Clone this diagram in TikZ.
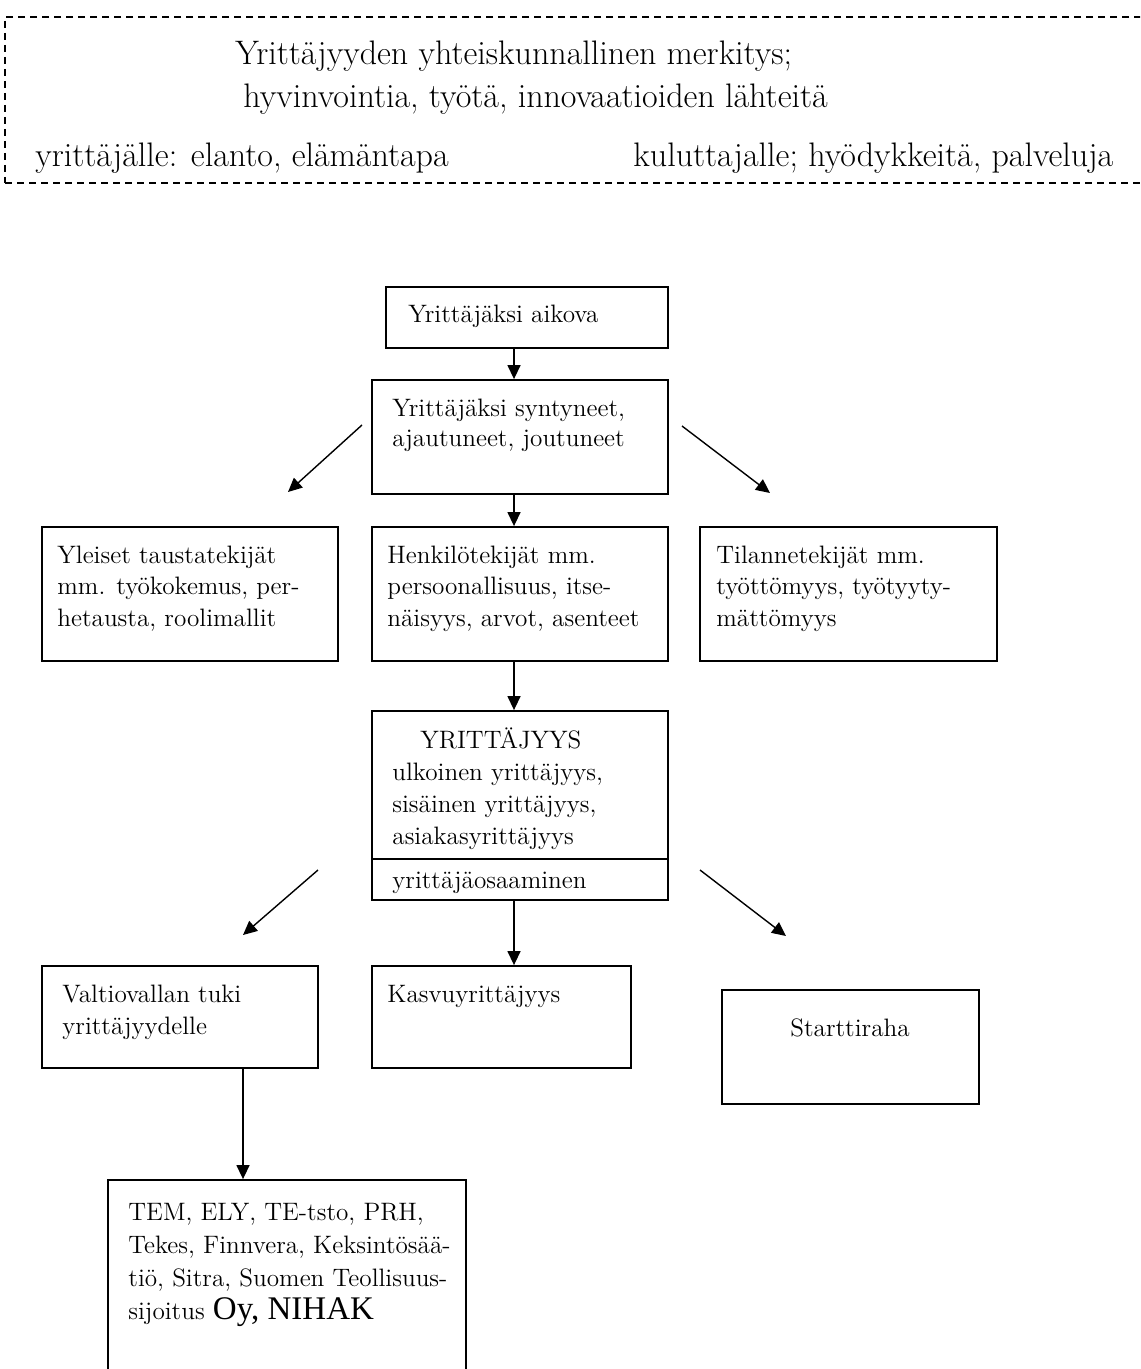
\documentclass[tikz,border=0pt]{standalone}
\usepackage{fontspec}
\newfontfamily\timesf{Liberation Serif}
\usetikzlibrary{arrows.meta,fit}
\begin{document}
\begin{tikzpicture}[x=0.5pt,y=-0.5pt,
 boxst/.style={draw, line width=0.9pt, inner sep=0pt},
 frame/.style={draw, line width=0.6pt, dash pattern=on 3.5pt off 2.5pt, inner sep=0pt},
 txt/.style={inner sep=0pt, anchor=base west, font=\fontsize{12.6}{15.75}\selectfont, align=left},
 toptxt/.style={inner sep=0pt, anchor=base west, font=\fontsize{17}{19}\selectfont},
 arr/.style={line width=0.7pt, -{Triangle[length=7pt,width=6.5pt]}}]
\clip (0,0) rectangle (1140,1369);
% top dashed frame
\node[frame, fit={(5,17) (1180,183)}] (fr) {};
\node[toptxt] (t1) at (235,65) {Yrittäjyyden yhteiskunnallinen merkitys;};
\node[toptxt] (t2) at (243,108) {hyvinvointia, työtä, innovaatioiden lähteitä};
\node[toptxt] (t3) at (35,167) {yrittäjälle: elanto, elämäntapa};
\node[toptxt] (t4) at (633,167) {kuluttajalle; hyödykkeitä, palveluja};
% boxes
\node[boxst, fit={(386,287) (668,348)}] (A) {};
\node[boxst, fit={(372,380) (668,494)}] (B) {};
\node[boxst, fit={(42,527) (338,661)}] (C1) {};
\node[boxst, fit={(372,527) (668,661)}] (C2) {};
\node[boxst, fit={(700,527) (997,661)}] (C3) {};
\node[boxst, fit={(372,711) (668,900)}] (D) {};
\coordinate (dv) at (0,859);
\draw[line width=0.9pt] (D.west |- dv) -- (D.east |- dv);
\node[boxst, fit={(42,966) (318,1068)}] (F1) {};
\node[boxst, fit={(372,966) (631,1068)}] (F2) {};
\node[boxst, fit={(722,990) (979,1104)}] (F3) {};
\node[boxst, fit={(108,1180) (466,1420)}] (G) {};
% texts (anchor = baseline of last line)
\node[txt] (tA) at (408,322) {Yrittäjäksi aikova};
\node[txt, font=\fontsize{12.6}{15}\selectfont] (tB) at (392,446) {Yrittäjäksi syntyneet,\\ajautuneet, joutuneet};
\node[txt] (tC1) at (57,626) {Yleiset taustatekijät\\mm. työkokemus, per-\\hetausta, roolimallit};
\node[txt] (tC2) at (387,626) {Henkilötekijät mm.\\persoonallisuus, itse-\\näisyys, arvot, asenteet};
\node[txt] (tC3) at (716,626) {Tilannetekijät mm.\\työttömyys, työtyyty-\\mättömyys};
\node[txt, font=\fontsize{12.6}{16}\selectfont] (tD) at (392,844) {\hspace*{14pt}YRITTÄJYYS\\ulkoinen yrittäjyys,\\sisäinen yrittäjyys,\\asiakasyrittäjyys};
\node[txt] (tD2) at (392,888) {yrittäjäosaaminen};
\node[txt, font=\fontsize{12.6}{16}\selectfont] (tF1) at (62,1034) {Valtiovallan tuki\\yrittäjyydelle};
\node[txt] (tF2) at (387,1002) {Kasvuyrittäjyys};
\node[txt, anchor=base] (tF3) at (850,1036) {Starttiraha};
\node[txt, font=\fontsize{12.6}{16.5}\selectfont] (tG) at (128,1319) {TEM, ELY, TE-tsto, PRH,\\Tekes, Finnvera, Keksintösää-\\tiö, Sitra, Suomen Teollisuus-\\sijoitus {\timesf\fontsize{16.5}{16.5}\selectfont Oy, NIHAK}};
% connectors
\coordinate (mx) at (514,0);
\coordinate (gx) at (243,0);
\draw[arr] (A.south -| mx) -- (B.north -| mx);
\draw[arr] (B.south -| mx) -- (C2.north -| mx);
\draw[arr] (C2.south -| mx) -- (D.north -| mx);
\draw[arr] (D.south -| mx) -- (F2.north -| mx);
\draw[arr] (F1.south -| gx) -- (G.north -| gx);
\coordinate (l1s) at (362,425); \coordinate (l1e) at (288,492);
\coordinate (r1s) at (682,426); \coordinate (r1e) at (770,493);
\coordinate (l2s) at (318,870); \coordinate (l2e) at (243,935);
\coordinate (r2s) at (700,870); \coordinate (r2e) at (786,936);
\draw[arr] (l1s) -- (l1e);
\draw[arr] (r1s) -- (r1e);
\draw[arr] (l2s) -- (l2e);
\draw[arr] (r2s) -- (r2e);
\end{tikzpicture}
\end{document}
